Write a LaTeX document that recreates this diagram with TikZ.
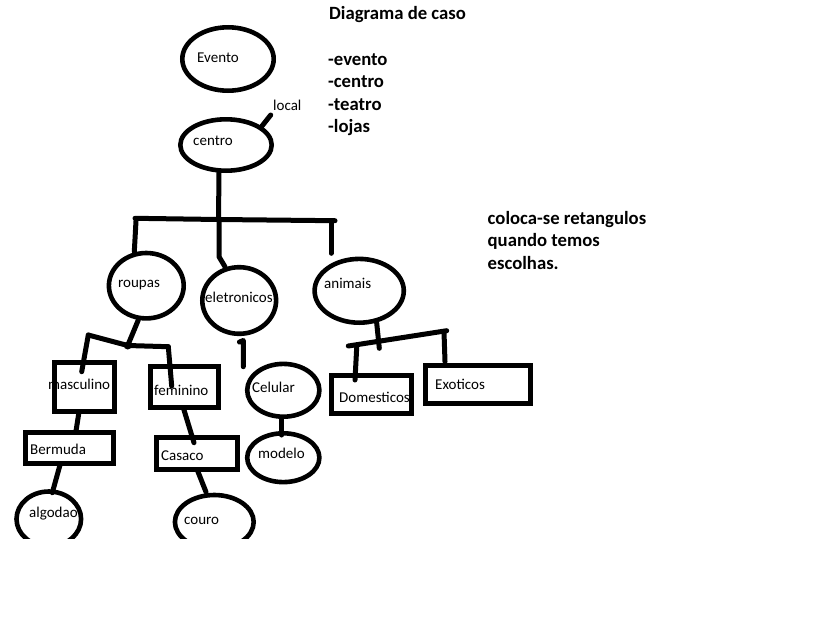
\documentclass[tikz,border=0pt]{standalone}
\usepackage{fontspec}
\setmainfont{Carlito}
\usetikzlibrary{shapes.geometric}
\begin{document}
\begin{tikzpicture}[x=1pt,y=-1pt,
  ell/.style={draw,ellipse,line width=4.6pt,inner sep=0pt},
  box/.style={draw,rectangle,line width=5pt,inner sep=0pt},
  lbl/.style={anchor=base west,inner sep=0pt,font=\fontsize{15}{18}\selectfont},
  ttl/.style={anchor=base west,inner sep=0pt,font=\fontsize{18.7}{22}\selectfont\bfseries},
  con/.style={line width=5pt,line cap=round,line join=round}]
\useasboundingbox (0,0) rectangle (819,616);
\begin{scope}
\clip (0,0) rectangle (819,538);
% labels (drawn first: the outlines cover them where they overlap)
\node[lbl] (tEvento) at (197,62) {Evento};
\node[lbl] (tcentro) at (193,145.3) {centro};
\node[lbl] (tlocal) at (273,110) {local};
\node[lbl] (troupas) at (118,287.3) {roupas};
\node[lbl] (teletronicos) at (205,302) {eletronicos};
\node[lbl] (tanimais) at (324,288.7) {animais};
\node[lbl] (tmasculino) at (48,389.3) {masculino};
\node[lbl] (tfeminino) at (154,395) {feminino};
\node[lbl] (tCelular) at (252,392.3) {Celular};
\node[lbl] (tDomesticos) at (339,402) {Domesticos};
\node[lbl] (tExoticos) at (435,389.3) {Exoticos};
\node[lbl] (tBermuda) at (30,454) {Bermuda};
\node[lbl] (tCasaco) at (161,460) {Casaco};
\node[lbl] (tmodelo) at (258,458.3) {modelo};
\node[lbl] (talgodao) at (29,517.3) {algodao};
\node[lbl] (tcouro) at (184,524.3) {couro};
% title texts
\node[ttl] (title) at (329,19) {Diagrama de caso};
\node[ttl] (l1) at (328,65) {-evento};
\node[ttl] (l2) at (328,87.5) {-centro};
\node[ttl] (l3) at (328,110.5) {-teatro};
\node[ttl] (l4) at (328,132.5) {-lojas};
\node[ttl] (n1) at (487.5,224) {coloca-se retangulos};
\node[ttl] (n2) at (487.5,246.7) {quando temos};
\node[ttl] (n3) at (487.5,269.4) {escolhas.};
% ellipses
\node[ell,minimum width=91.4,minimum height=63.4] (Evento) at (228,59) {};
\node[ell,minimum width=91.4,minimum height=51.4] (centro) at (226,145) {};
\node[ell,minimum width=74.8,minimum height=65.4] (roupas) at (146.3,285.7) {};
\node[ell,minimum width=73.8,minimum height=66.6] (eletronicos) at (239.2,300.5) {};
\node[ell,minimum width=89.2,minimum height=63.8] (animais) at (359.2,290.8) {};
\node[ell,minimum width=72.2,minimum height=52.8] (Celular) at (283.3,390.3) {};
\node[ell,minimum width=72.2,minimum height=48.8] (modelo) at (283.3,457.7) {};
\node[ell,minimum width=64.6,minimum height=55] (algodao) at (48.8,519) {};
\node[ell,minimum width=78.8,minimum height=54] (couro) at (214.3,522) {};
% boxes
\node[box,minimum width=60,minimum height=48.5] (masculino) at (84,386.75) {};
\node[box,minimum width=67.4,minimum height=41] (feminino) at (184.5,387.3) {};
\node[box,minimum width=87.7,minimum height=30.7] (Bermuda) at (69.35,447.85) {};
\node[box,minimum width=81,minimum height=31.7] (Casaco) at (197,453.35) {};
\node[box,minimum width=80,minimum height=37.4] (Domesticos) at (371.5,394.5) {};
\node[box,minimum width=104.4,minimum height=37.4] (Exoticos) at (478,384.5) {};
% connector points
\coordinate (loc1) at (261,127.3);
\coordinate (loc2) at (270.7,115);
\coordinate (ct) at (219,172);
\coordinate (bm) at (218.5,219.5);
\coordinate (bl) at (135,218.3);
\coordinate (br) at (335,220.7);
\coordinate (dl1) at (136,221);
\coordinate (dl2) at (134.3,251.7);
\coordinate (dm1) at (219,221);
\coordinate (dm2) at (219,256.7);
\coordinate (dm3) at (225,266.7);
\coordinate (dr1) at (331,222);
\coordinate (dr2) at (331,253.3);
\coordinate (r1) at (138.3,320);
\coordinate (rj) at (127.7,345.5);
\coordinate (rl) at (88.3,335);
\coordinate (rr) at (168.3,346.7);
\coordinate (ml) at (81.7,371.7);
\coordinate (fl) at (171.7,386);
\coordinate (mb1) at (79,412);
\coordinate (mb2) at (76,431);
\coordinate (fc1) at (183.7,409);
\coordinate (fc2) at (194,442.7);
\coordinate (ba1) at (60,465);
\coordinate (ba2) at (52.3,492.7);
\coordinate (cc1) at (197.3,470);
\coordinate (cc2) at (206,492);
\coordinate (e0) at (239.5,342);
\coordinate (e1) at (243.3,340.5);
\coordinate (e2) at (243.3,366.7);
\coordinate (cm1) at (281.7,418);
\coordinate (cm2) at (281.7,435);
\coordinate (a1) at (376.7,323);
\coordinate (a2) at (379.3,348.3);
\coordinate (ab1) at (348.3,346);
\coordinate (ab2) at (446.7,330.7);
\coordinate (ad1) at (356.7,347.5);
\coordinate (ad2) at (355,380);
\coordinate (ae1) at (444,332);
\coordinate (ae2) at (445,361.7);
% connectors
\draw[con] (loc1) -- (loc2);
\draw[con] (ct) -- (bm);
\draw[con] (bl) -- (bm) -- (br);
\draw[con] (dl1) -- (dl2);
\draw[con] (dm1) -- (dm2) -- (dm3);
\draw[con] (dr1) -- (dr2);
\draw[con] (r1) -- (rj);
\draw[con] (rl) -- (rj) -- (rr);
\draw[con] (rl) -- (ml);
\draw[con] (rr) -- (fl);
\fill (rj) circle (4);
\draw[con] (mb1) -- (mb2);
\draw[con] (fc1) -- (fc2);
\draw[con] (ba1) -- (ba2);
\draw[con] (cc1) -- (cc2);
\draw[con] (e0) -- (e1) -- (e2);
\draw[con] (cm1) -- (cm2);
\draw[con] (a1) -- (a2);
\draw[con] (ab1) -- (ab2);
\draw[con] (ad1) -- (ad2);
\draw[con] (ae1) -- (ae2);
\end{scope}
\end{tikzpicture}
\end{document}
